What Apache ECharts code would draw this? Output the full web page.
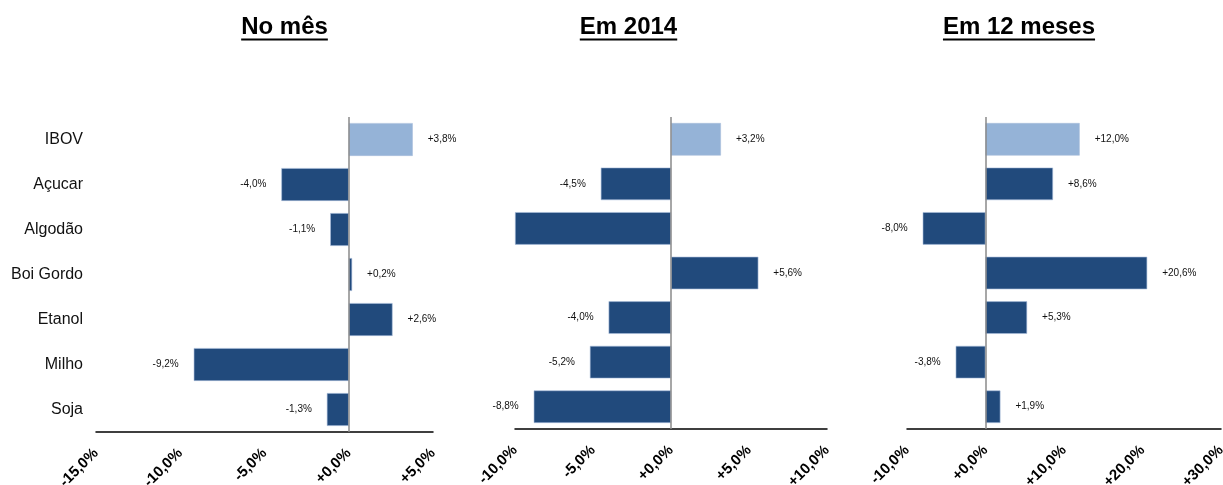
<!DOCTYPE html>
<html>
<head>
<meta charset="utf-8">
<script src="https://cdn.jsdelivr.net/npm/echarts@6/dist/echarts.min.js"></script>
<style>
html,body{margin:0;padding:0;background:#fff;}
#chart{width:1223px;height:485px;}
</style>
</head>
<body>
<div id="chart"></div>
<script>
const categories = ['IBOV', 'Açucar', 'Algodão', 'Boi Gordo', 'Etanol', 'Milho', 'Soja'];
const titles = ['No mês', 'Em 2014', 'Em 12 meses'];
const valuesMes = [3.8, -4.0, -1.1, 0.2, 2.6, -9.2, -1.3];
const values2014 = [3.2, -4.5, -10.0, 5.6, -4.0, -5.2, -8.8];
const values12m = [12.0, 8.6, -8.0, 20.6, 5.3, -3.8, 1.9];
const hiddenLabels2014 = [2]; // Algodão label not shown in reference
const axisMin = [-15, -10, -10];
const axisMax = [5, 10, 30];
const axisInterval = [5, 5, 10];

const FONT = '"Liberation Sans", Arial, sans-serif';
const DARK = '#214A7C';
const LIGHT = '#95B3D7';

function fmt(v) {
  const s = Math.abs(v).toFixed(1).replace('.', ',');
  return (v < 0 ? '-' : '+') + s + '%';
}

const grids = [
  {left: 96, top: 117, width: 337, height: 315, outerBoundsMode: 'none', containLabel: false},
  {left: 515, top: 117, width: 312, height: 312, outerBoundsMode: 'none', containLabel: false},
  {left: 907, top: 117, width: 314, height: 312, outerBoundsMode: 'none', containLabel: false}
];
const allValues = [valuesMes, values2014, values12m];
const hidden = [[], hiddenLabels2014, []];

const chart = echarts.init(document.getElementById('chart'), null, {renderer: 'canvas'});

const xAxis = [], yAxis = [], series = [];
for (let i = 0; i < 3; i++) {
  xAxis.push({
    type: 'value', gridIndex: i,
    min: axisMin[i], max: axisMax[i], interval: axisInterval[i],
    splitLine: {show: false},
    axisTick: {show: false},
    axisLine: {show: true, onZero: false, lineStyle: {color: '#000', width: 1.5}},
    axisLabel: {
      rotate: 45, margin: 19,
      fontFamily: FONT, fontSize: 15, fontWeight: 'bold', color: '#000',
      formatter: v => fmt(v),
      showMinLabel: true, showMaxLabel: true,
      hideOverlap: false
    }
  });
  yAxis.push({
    type: 'category', gridIndex: i, data: categories, inverse: true,
    axisLine: {show: false}, axisTick: {show: false},
    axisLabel: {
      show: i === 0, margin: 13,
      fontFamily: FONT, fontSize: 16, color: '#111'
    }
  });
  series.push({
    type: 'bar', xAxisIndex: i, yAxisIndex: i,
    barWidth: '73%',
    data: allValues[i].map((v, k) => ({
      value: v,
      itemStyle: {color: k === 0 ? LIGHT : DARK},
      label: hidden[i].includes(k) ? {show: false} : (v < 0 ? {position: 'left'} : undefined)
    })),
    itemStyle: {borderColor: '#A9BEDB', borderWidth: 0.6},
    label: {
      show: true,
      position: 'right',
      distance: 15,
      fontFamily: FONT, fontSize: 10, color: '#111',
      formatter: p => fmt(p.value)
    },
    markLine: {
      silent: true, symbol: 'none',
      label: {show: false},
      lineStyle: {color: '#8a8a8a', width: 1.5, type: 'solid'},
      data: [{xAxis: 0}],
      animation: false
    },
    animation: false
  });
}

const titleCenters = [284.5, 628.5, 1019];
const graphic = [];
const mctx = document.createElement('canvas').getContext('2d');
mctx.font = 'bold 24px ' + FONT;
titles.forEach((t, i) => {
  const w = mctx.measureText(t).width;
  graphic.push({
    type: 'text', left: titleCenters[i] - w / 2, top: 15,
    style: {text: t, font: 'bold 24px ' + FONT, fill: '#000'}
  });
  graphic.push({
    type: 'rect', left: titleCenters[i] - w / 2, top: 38.5,
    shape: {width: w, height: 2}, style: {fill: '#000'}
  });
});

chart.setOption({
  animation: false,
  backgroundColor: '#fff',
  grid: grids,
  xAxis: xAxis,
  yAxis: yAxis,
  series: series,
  graphic: graphic
});
</script>
</body>
</html>
